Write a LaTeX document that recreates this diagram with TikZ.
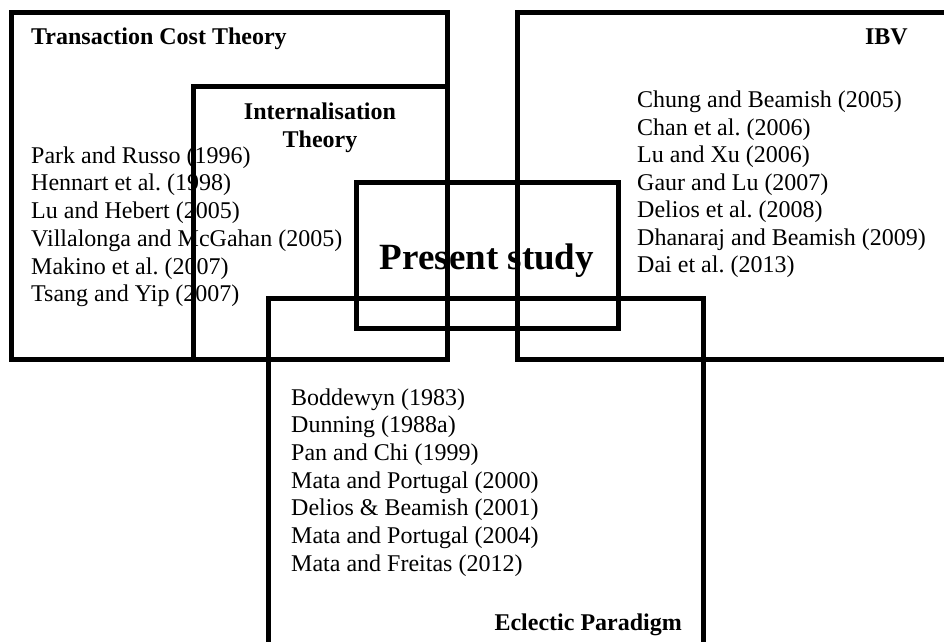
\documentclass[tikz,border=0pt]{standalone}
\usepackage{fontspec}
\setmainfont{Liberation Serif}
\frenchspacing
\begin{document}
\begin{tikzpicture}[x=1pt, y=-1pt,
  frame/.style={draw=black, line width=5pt, line join=miter},
  entry/.style={anchor=base west, inner sep=0pt, font=\fontsize{24}{27.6}\selectfont},
  heading/.style={inner sep=0pt, font=\fontsize{24}{27.6}\selectfont\bfseries},
  bigheading/.style={inner sep=0pt, font=\fontsize{37}{42}\selectfont\bfseries}]
\useasboundingbox (0,0) rectangle (944,641);

% headings of the theoretical perspectives
\node[heading, anchor=base west] (tcthead) at (31,44) {Transaction Cost Theory};
\node[heading, anchor=base] (inthead1) at (320,119) {Internalisation};
\node[heading, anchor=base] (inthead2) at (320,147) {Theory};
\node[heading, anchor=base east] (ibvhead) at (908,44) {IBV};
\node[heading, anchor=base east] (ephead) at (682,630) {Eclectic Paradigm};
\node[bigheading, anchor=base] (present) at (487,269) {Present study};

% literature listed under each perspective
\foreach \t [count=\i from 0] in {Park and Russo (1996), Hennart et al. (1998),
    Lu and Hebert (2005), Villalonga and McGahan (2005), Makino et al. (2007),
    Tsang and Yip (2007)}
  \node[entry] (tct-\i) at (31,{163+27.75*\i}) {\t};

\foreach \t [count=\i from 0] in {Chung and Beamish (2005), Chan et al. (2006),
    Lu and Xu (2006), Gaur and Lu (2007), Delios et al. (2008),
    Dhanaraj and Beamish (2009), Dai et al. (2013)}
  \node[entry] (ibv-\i) at (637,{107.5+27.5*\i}) {\t};

\foreach \t [count=\i from 0] in {Boddewyn (1983), Dunning (1988a), Pan and Chi (1999),
    Mata and Portugal (2000), Delios \& Beamish (2001), Mata and Portugal (2004),
    Mata and Freitas (2012)}
  \node[entry] (ep-\i) at (291,{405+27.67*\i}) {\t};

% overlapping frames, drawn over the text
\begin{scope}
  \clip (0,0) rectangle (944,641);
  \draw[frame] (11.5,12.5) rectangle (447,359);   % transaction cost theory
  \draw[frame] (193,86.5) rectangle (447,359);    % internalisation theory
  \draw[frame] (517.5,12.5) rectangle (970,359);  % IBV
  \draw[frame] (356,182) rectangle (618,328.5);   % present study
  \draw[frame] (268,298) rectangle (703,680);     % eclectic paradigm
\end{scope}
\end{tikzpicture}
\end{document}
